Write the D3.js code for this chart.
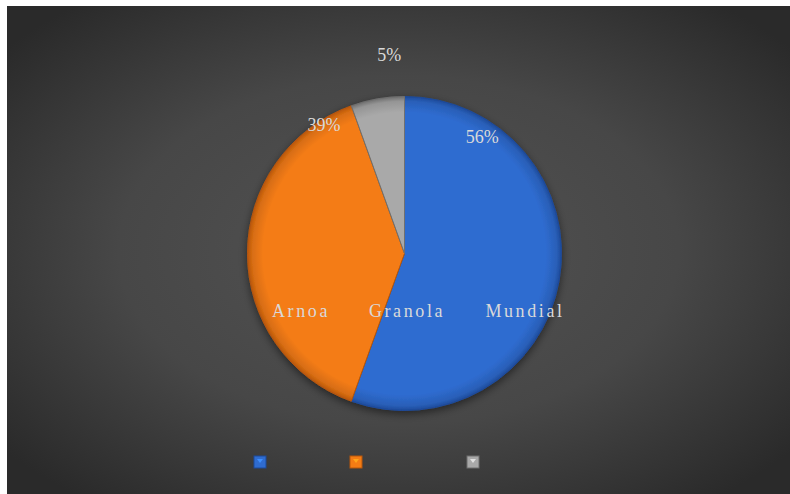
<!DOCTYPE html>
<html><head><meta charset="utf-8">
<script src="https://cdn.jsdelivr.net/npm/d3@7"></script>
<style>html,body{margin:0;padding:0;background:#fff;}svg{display:block;}</style>
</head><body>
<svg id="c" width="790" height="494"></svg>
<script>
const categories = ["Mundial", "Arnoa", "Granola"];
const values = [55.5, 39.0, 5.5];
const percentLabels = ["56%", "39%", "5%"];
const axisLabels = ["Arnoa", "Granola", "Mundial"];
const colors = ["#2f6cd0", "#f47c14", "#a9a9a9"];
const darkColors = ["#1d4a9a", "#b8560a", "#6f6f6f"];

const W = 790, H = 494;
const svg = d3.select("#c");
const defs = svg.append("defs");

// background
const bg = defs.append("radialGradient").attr("id","bg")
  .attr("cx","50%").attr("cy","50%").attr("r","65%");
bg.append("stop").attr("offset","0%").attr("stop-color","#535353");
bg.append("stop").attr("offset","55%").attr("stop-color","#474747");
bg.append("stop").attr("offset","100%").attr("stop-color","#2a2a2a");
svg.append("rect").attr("x",7).attr("y",6).attr("width",W-7).attr("height",H-6).attr("fill","url(#bg)");

// shadow filter
const f = defs.append("filter").attr("id","sh").attr("x","-20%").attr("y","-20%").attr("width","140%").attr("height","140%");
f.append("feGaussianBlur").attr("in","SourceAlpha").attr("stdDeviation",4).attr("result","b");
f.append("feOffset").attr("in","b").attr("dx",0).attr("dy",3).attr("result","o");
f.append("feComponentTransfer").attr("in","o").attr("result","o2")
  .append("feFuncA").attr("type","linear").attr("slope",0.5);
const fm = f.append("feMerge");
fm.append("feMergeNode").attr("in","o2");
fm.append("feMergeNode").attr("in","SourceGraphic");

colors.forEach((c,i)=>{
  const g = defs.append("radialGradient").attr("id","g"+i)
    .attr("gradientUnits","userSpaceOnUse").attr("cx",0).attr("cy",0).attr("r",157);
  g.append("stop").attr("offset","0%").attr("stop-color",c);
  g.append("stop").attr("offset","90%").attr("stop-color",c);
  g.append("stop").attr("offset","97%").attr("stop-color",d3.color(c).darker(0.35));
  g.append("stop").attr("offset","100%").attr("stop-color",darkColors[i]);
});

const cx = 404.5, cy = 253.5, R = 157;
const pie = d3.pie().sort(null).value(d=>d)(values);
const arc = d3.arc().innerRadius(0).outerRadius(R);
const gp = svg.append("g").attr("transform",`translate(${cx},${cy})`);
const pg = gp.append("g").attr("filter","url(#sh)");
pg.selectAll("path").data(pie).join("path")
  .attr("d",arc).attr("fill",(d,i)=>"url(#g"+i+")")
  .attr("stroke",(d,i)=>darkColors[i]).attr("stroke-width",1);

// percent labels (placed near the outer rim, as in the reference)
const labelPolar = [[0.59, 0.89], [-0.56, 0.965], [-0.077, 1.27]]; // [angle rad, radius factor]
gp.selectAll("text.pct").data(percentLabels).join("text").attr("class","pct")
  .attr("x",(d,i)=>Math.sin(labelPolar[i][0])*R*labelPolar[i][1])
  .attr("y",(d,i)=>-Math.cos(labelPolar[i][0])*R*labelPolar[i][1])
  .attr("text-anchor","middle").attr("dominant-baseline","central")
  .attr("font-family","Liberation Serif, serif").attr("font-size",18)
  .attr("fill","#d9d9d9").text(d=>d);

// stray category labels
const xs = d3.scaleOrdinal().domain(axisLabels).range([301, 407, 525]);
svg.selectAll("text.cat").data(axisLabels).join("text").attr("class","cat")
  .attr("x",d=>xs(d)).attr("y",311)
  .attr("text-anchor","middle").attr("dominant-baseline","central")
  .attr("font-family","Liberation Serif, serif").attr("font-size",18)
  .attr("letter-spacing",2.6)
  .attr("fill","#d9d9d9").text(d=>d);

// legend markers
const lx = [260, 356, 473];
const lg = svg.append("g");
categories.forEach((c,i)=>{
  const g = lg.append("g").attr("transform",`translate(${lx[i]},462)`);
  g.append("rect").attr("x",-6).attr("y",-6).attr("width",12).attr("height",12)
    .attr("fill",colors[i]).attr("stroke",darkColors[i]).attr("stroke-width",1);
  g.append("path").attr("d","M-3,-3 L3,-3 L0,1 Z").attr("fill",d3.color(colors[i]).brighter(0.8));
});
</script>
</body></html>
